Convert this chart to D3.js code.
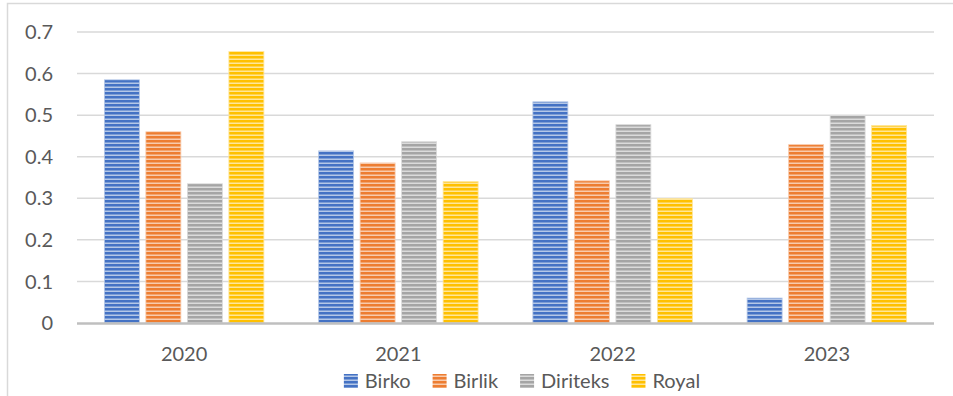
<!DOCTYPE html>
<html>
<head>
<meta charset="utf-8">
<script src="https://cdn.jsdelivr.net/npm/d3@7"></script>
<style>
  body { margin: 0; background: #fff; }
  svg text { font-family: Lato, "Open Sans", sans-serif; fill: #595959; }
</style>
</head>
<body>
<div id="chart"></div>
<script>
let years = ["2020", "2021", "2022", "2023"];
let series = ["Birko", "Birlik", "Diriteks", "Royal"];

let birko = [0.585, 0.414, 0.532, 0.06];
let birlik = [0.46, 0.385, 0.342, 0.429];
let diriteks = [0.335, 0.436, 0.477, 0.499];
let royal = [0.653, 0.34, 0.299, 0.475];

let yTicks = [0, 0.1, 0.2, 0.3, 0.4, 0.5, 0.6, 0.7];

let colors = {
  Birko: ["#4472c4", "#b4c7e7"],
  Birlik: ["#ed7d31", "#f8cbad"],
  Diriteks: ["#a5a5a5", "#dbdbdb"],
  Royal: ["#ffc000", "#ffe699"]
};

let values = { Birko: birko, Birlik: birlik, Diriteks: diriteks, Royal: royal };

let svgWidth = 953;
let svgHeight = 396;

let margin = { top: 32, right: 19, bottom: 73, left: 77 };
let chartWidth = svgWidth - margin.left - margin.right;
let chartHeight = svgHeight - margin.top - margin.bottom;

let groupWidth = 159.5;

let x = d3.scaleBand()
  .domain(years)
  .range([0, chartWidth]);

let x1 = d3.scaleBand()
  .domain(series)
  .range([0, groupWidth])
  .paddingInner(0.157);

let y = d3.scaleLinear()
  .domain([0, 0.7])
  .range([chartHeight, 0]);

let svg = d3.select("#chart")
  .append("svg")
  .attr("width", svgWidth)
  .attr("height", svgHeight);

// striped fills
let defs = svg.append("defs");
series.forEach(s => {
  let p = defs.append("pattern")
    .attr("id", "pat-" + s)
    .attr("patternUnits", "userSpaceOnUse")
    .attr("width", 8)
    .attr("height", 4);
  p.append("rect").attr("width", 8).attr("height", 4).attr("fill", colors[s][0]);
  p.append("rect").attr("y", 2.5).attr("width", 8).attr("height", 1.5).attr("fill", colors[s][1]);
});

// outer border
svg.append("path")
  .attr("d", "M7.5," + (svgHeight + 1) + "V3.5H" + (svgWidth + 1))
  .attr("fill", "none")
  .attr("stroke", "#d9d9d9")
  .attr("stroke-width", 1.5);

let g = svg.append("g")
  .attr("transform", "translate(" + margin.left + ", " + margin.top + ")");

// gridlines
g.selectAll(".grid")
  .data(yTicks.filter(d => d > 0))
  .enter()
  .append("line")
  .attr("x1", 0)
  .attr("x2", chartWidth)
  .attr("y1", d => y(d))
  .attr("y2", d => y(d))
  .attr("stroke", "#d9d9d9")
  .attr("stroke-width", 1.5);

// y labels
g.selectAll(".ylab")
  .data(yTicks)
  .enter()
  .append("text")
  .attr("x", -24)
  .attr("y", d => y(d))
  .attr("dy", "0.36em")
  .attr("text-anchor", "end")
  .style("font-size", "20px")
  .text(d => d === 0 ? "0" : d3.format(".1f")(d));

// bars
let groups = g.selectAll(".group")
  .data(years)
  .enter()
  .append("g")
  .attr("transform", d => "translate(" + (x(d) + x.bandwidth() / 2 - groupWidth / 2) + ",0)");

groups.selectAll("rect")
  .data((d, i) => series.map(s => ({ s: s, v: values[s][i] })))
  .enter()
  .append("rect")
  .attr("x", d => x1(d.s))
  .attr("width", x1.bandwidth())
  .attr("y", d => y(d.v))
  .attr("height", d => chartHeight - y(d.v))
  .attr("fill", d => "url(#pat-" + d.s + ")")
  .attr("stroke", d => colors[d.s][1])
  .attr("stroke-width", 0.8);

// x axis line
g.append("line")
  .attr("x1", 0)
  .attr("x2", chartWidth)
  .attr("y1", chartHeight + 0.5)
  .attr("y2", chartHeight + 0.5)
  .attr("stroke", "#bfbfbf")
  .attr("stroke-width", 2.5);

// x labels
g.selectAll(".xlab")
  .data(years)
  .enter()
  .append("text")
  .attr("x", d => x(d) + x.bandwidth() / 2)
  .attr("y", chartHeight + 38)
  .attr("text-anchor", "middle")
  .style("font-size", "20px")
  .text(d => d);

// legend
let legend = svg.append("g");
let lx = 0;
series.forEach(s => {
  let item = legend.append("g").attr("transform", "translate(" + lx + ",0)");
  item.append("rect")
    .attr("x", 0)
    .attr("y", -7)
    .attr("width", 14)
    .attr("height", 14)
    .attr("fill", "url(#pat-" + s + ")");
  let t = item.append("text")
    .attr("x", 21)
    .attr("dy", "0.36em")
    .style("font-size", "20px")
    .text(s);
  lx += 21 + t.node().getComputedTextLength() + 22;
});
let legendWidth = lx - 22;
legend.attr("transform", "translate(" + (522 - legendWidth / 2) + ",381)");
</script>
</body>
</html>
